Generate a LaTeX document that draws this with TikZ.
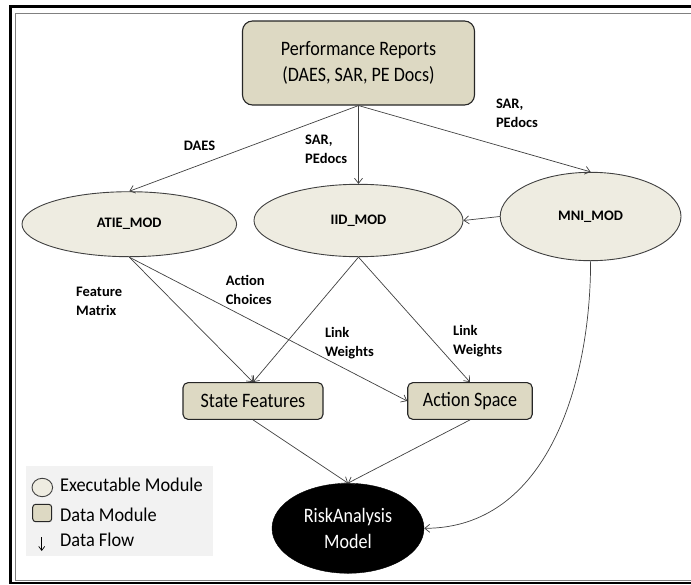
\documentclass[tikz,border=0pt]{standalone}
\usepackage{fontspec}
\setmainfont{Carlito}
\newfontfamily\narrowfont[FakeStretch=0.88]{Carlito}
\newfontfamily\legendfont[FakeStretch=0.94]{Carlito}
\usepackage{xcolor}
\usetikzlibrary{shapes,arrows.meta,positioning}
\definecolor{modfill}{HTML}{EEECE1}
\definecolor{datfill}{HTML}{DDD9C3}
\definecolor{linegray}{HTML}{404040}
\definecolor{legfill}{HTML}{F2F2F2}

\begin{document}
\begin{tikzpicture}[x=1pt, y=-1pt,
    module/.style={ellipse, draw=linegray, line width=0.9pt, fill=modfill, inner sep=0pt, font=\fontsize{14.5}{17}\selectfont\bfseries},
    datanode/.style={rectangle, rounded corners=5pt, draw=black!85, line width=1.1pt, fill=datfill, inner sep=0pt, align=center, font=\narrowfont\fontsize{20.5}{26}\selectfont},
    flow/.style={draw=linegray, line width=0.7pt, -{Straight Barb[length=5pt,width=8pt]}},
    flowlabel/.style={anchor=west, align=left, inner sep=0pt, font=\fontsize{14.5}{19}\selectfont\bfseries},
    legendtext/.style={anchor=base west, inner sep=0pt, font=\legendfont\fontsize{19.5}{22}\selectfont}]
    \useasboundingbox (0,0) rectangle (691,584);

    % frame
    \draw[line width=2.4pt] (10.5,6.3) rectangle (720,583);
    \draw[line width=1.2pt, gray] (15.3,13.5) rectangle (720,580.3);

    % modules
    \node[datanode, rounded corners=10pt, minimum width=232pt, minimum height=84pt] (perf) at (358.5,63) {Performance Reports\\(DAES, SAR, PE Docs)};
    \node[module, minimum width=214.6pt, minimum height=65pt] (atie) at (129.3,224.2) {ATIE\_MOD};
    \node[module, minimum width=209pt, minimum height=72.4pt] (iid) at (358.5,220.5) {IID\_MOD};
    \node[module, minimum width=180.8pt, minimum height=88.4pt] (mni) at (590.6,216.5) {MNI\_MOD};
    \node[datanode, minimum width=140pt, minimum height=36.7pt] (state) at (253,401) {State Features};
    \node[datanode, minimum width=124.5pt, minimum height=36.7pt] (action) at (470,401) {Action Space};
    \node[ellipse, draw=black, fill=black, text=white, inner sep=0pt, align=center, minimum width=152pt, minimum height=90pt, font=\narrowfont\fontsize{20.5}{26}\selectfont] (risk) at (348,528.3) {RiskAnalysis\\Model};

    % data flows
    \draw[flow] (perf.south) -- (atie.north);
    \draw[flow] (perf.south) -- (iid.north);
    \draw[flow] (perf.south) -- (mni.north);
    \draw[flow] (mni.west) -- (iid.east);
    \draw[flow] (atie.south) -- (state.north);
    \draw[flow] (atie.south) -- (action.west);
    \draw[flow] (iid.south) -- (state.north);
    \draw[flow] (iid.south) -- (action.north);
    \draw[flow] (mni.south) to[out=-90, in=0] (risk.east);
    \draw[flow] (state.south) -- (risk.north);
    \draw[flow] (action.south) -- (risk.north);

    % flow labels
    \node[flowlabel, anchor=center] (ldaes) at (199.5,146) {DAES};
    \node[flowlabel] (lsarmid) at (305,149) {SAR,\\PEdocs};
    \node[flowlabel] (lsarright) at (495.8,113) {SAR,\\PEdocs};
    \node[flowlabel] (lfeature) at (76,301.5) {Feature\\Matrix};
    \node[flowlabel] (lchoices) at (225.6,290) {Action\\Choices};
    \node[flowlabel] (llinkmid) at (324.8,343.3) {Link\\Weights};
    \node[flowlabel] (llinkright) at (453,340.7) {Link\\Weights};

    % legend
    \node[fill=legfill, minimum width=186.7pt, minimum height=90pt, inner sep=0pt] (legend) at (119.4,511) {};
    \node[ellipse, draw=linegray, fill=modfill, line width=0.9pt, inner sep=0pt, minimum width=20.6pt, minimum height=18.4pt] (legmod) at (42.3,487.5) {};
    \node[rectangle, rounded corners=3pt, draw=black!85, fill=datfill, line width=1pt, inner sep=0pt, minimum width=19pt, minimum height=17.4pt] (legdat) at (42.2,513) {};
    \coordinate (legtop) at (41.7,537);
    \coordinate (legbot) at (41.7,551);
    \draw[line width=0.7pt, -{Straight Barb[length=4pt,width=6pt]}] (legtop) -- (legbot);
    \node[legendtext] (tmod) at (60,491.7) {Executable Module};
    \node[legendtext] (tdat) at (60,521.3) {Data Module};
    \node[legendtext] (tflow) at (60,546) {Data Flow};
\end{tikzpicture}
\end{document}
